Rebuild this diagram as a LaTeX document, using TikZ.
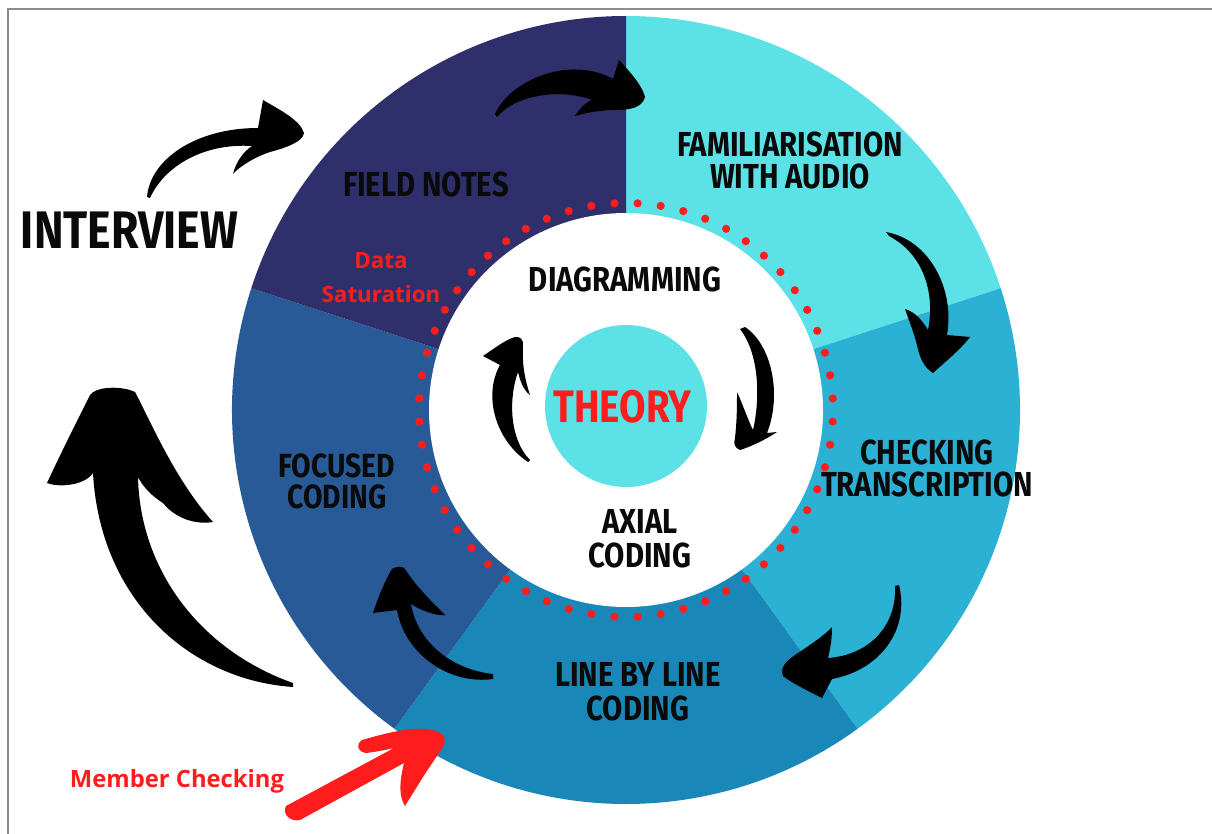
\documentclass[tikz,border=0pt]{standalone}
\usepackage{fontspec}
\setmainfont{Open Sans}
\newfontfamily\condfont{Fira Sans}[FakeStretch=0.845]
\newfontfamily\notefont{Open Sans}
\definecolor{navyseg}{HTML}{2F2F6B}
\definecolor{focusseg}{HTML}{285A97}
\definecolor{lineseg}{HTML}{1987B8}
\definecolor{checkseg}{HTML}{2BB1D3}
\definecolor{familseg}{HTML}{5CE1E6}
\definecolor{redtxt}{HTML}{FF1C1C}
\definecolor{ink}{HTML}{0A0A0A}
\begin{document}
\begin{tikzpicture}[x=1pt,y=-1pt,
  stagelabel/.style={font=\condfont\bfseries\fontsize{34.7}{32}\selectfont, text=ink, align=center, inner sep=0pt},
  notelabel/.style={font=\notefont\bfseries\fontsize{22.4}{34}\selectfont, text=redtxt, align=center, inner sep=0pt},
  brush/.style={fill=black},
  redbrush/.style={fill=redtxt},
]
\useasboundingbox (0,0) rectangle (1212,834);
\fill[white] (0,0) rectangle (1212,834);
\draw[black!45, line width=1.5pt] (8,834) -- (8,9) -- (1212,9);

\coordinate (C) at (626,410);
% ring sectors (angles measured clockwise, y downwards)
\fill[familseg] (C) -- ++(-90:394) arc[start angle=-90, end angle=-18, radius=394] -- cycle;
\fill[checkseg] (C) -- ++(-18:394) arc[start angle=-18, end angle=54, radius=394] -- cycle;
\fill[lineseg]  (C) -- ++(54:394) arc[start angle=54, end angle=126, radius=394] -- cycle;
\fill[focusseg] (C) -- ++(126:394) arc[start angle=126, end angle=198, radius=394] -- cycle;
\fill[navyseg]  (C) -- ++(198:394) arc[start angle=198, end angle=270, radius=394] -- cycle;
% inner white disc
\fill[white] (C) circle[radius=197];
% dotted red ring
\foreach \i in {0,...,55} {
  \pgfmathsetmacro{\ang}{-90+3.2143+6.4286*\i}
  \fill[redtxt] (C) ++(\ang:207) circle[radius=4.1];
}
% theory disc
\fill[familseg] (626,406) circle[radius=81];

% labels
\node[stagelabel, font=\condfont\bfseries\fontsize{52.8}{50}\selectfont] (interview) at (129.5,230.5) {INTERVIEW};
\node[stagelabel] (fieldnotes) at (426,184) {FIELD NOTES};
\node[stagelabel] (familiar) at (790,160) {FAMILIARISATION\\WITH AUDIO};
\node[stagelabel] (diagram) at (625,279) {DIAGRAMMING};
\node[stagelabel, font=\condfont\bfseries\fontsize{45.5}{43}\selectfont, text=redtxt] (theory) at (622.5,407) {THEORY};
\node[stagelabel] (checking) at (927,468) {CHECKING\\TRANSCRIPTION};
\node[stagelabel, font=\condfont\bfseries\fontsize{34.7}{34}\selectfont] (axial) at (640,539) {AXIAL\\CODING};
\node[stagelabel, font=\condfont\bfseries\fontsize{33.5}{31}\selectfont] (focused) at (337,481) {FOCUSED\\CODING};
\node[stagelabel, font=\condfont\bfseries\fontsize{34.7}{34}\selectfont] (linebyline) at (638,691.5) {LINE BY LINE\\CODING};
\node[notelabel] (datasat) at (381,278) {Data\\Saturation};
\node[notelabel, font=\notefont\bfseries\fontsize{23.8}{30}\selectfont, anchor=base] (member) at (177,787) {Member Checking};

% brush arrows
% interview -> field notes
\fill[brush] (147,197) .. controls (150,160) and (195,128) .. (258,128)
  -- (263,100) .. controls (280,110) and (300,120) .. (304,133)
  .. controls (303,142) and (285,148) .. (270,152)
  .. controls (255,157) and (240,166) .. (233,174)
  .. controls (236,162) and (243,152) .. (252,146)
  .. controls (205,143) and (165,165) .. (150,198) -- cycle;
% field notes -> familiarisation
\fill[brush] (495,114) .. controls (510,80) and (570,55) .. (613,79)
  -- (619,60) .. controls (630,72) and (642,85) .. (645,97)
  .. controls (642,108) and (630,110) .. (615,110)
  .. controls (600,110) and (585,113) .. (575,116)
  .. controls (580,108) and (585,103) .. (592,100)
  .. controls (560,88) and (515,95) .. (497,117) -- cycle;
% familiarisation -> checking
\fill[brush] (886,232) .. controls (930,240) and (955,290) .. (947,335)
  -- (970,337) .. controls (960,350) and (945,362) .. (933,373)
  .. controls (925,368) and (920,360) .. (917,345)
  .. controls (913,330) and (908,318) .. (905,309)
  .. controls (915,312) and (922,320) .. (928,330)
  .. controls (935,295) and (925,255) .. (889,236) -- cycle;
% checking -> line by line
\fill[brush] (899,585) .. controls (910,630) and (880,670) .. (832,679)
  -- (822,698) .. controls (810,692) and (790,682) .. (783,676)
  .. controls (780,668) and (785,662) .. (795,655)
  .. controls (810,645) and (825,635) .. (832,627)
  .. controls (832,640) and (830,650) .. (828,658)
  .. controls (870,655) and (897,625) .. (895,586) -- cycle;
% line by line -> focused
\fill[brush] (493,679) .. controls (450,685) and (405,655) .. (397,610)
  -- (373,613) .. controls (378,598) and (385,580) .. (392,569)
  .. controls (397,566) and (402,566) .. (405,569)
  .. controls (415,585) and (430,600) .. (445,615)
  .. controls (435,616) and (420,610) .. (411,604)
  .. controls (418,645) and (455,670) .. (493,674) -- cycle;
% big return arrow
\fill[brush] (293,687) .. controls (190,680) and (100,600) .. (93,473)
  .. controls (85,485) and (60,488) .. (47,483)
  .. controls (60,455) and (75,425) .. (90,395)
  .. controls (95,387) and (120,385) .. (135,392)
  .. controls (150,420) and (175,480) .. (213,522)
  .. controls (195,525) and (175,518) .. (163,503)
  .. controls (150,495) and (142,485) .. (138,477)
  .. controls (140,570) and (200,650) .. (293,683) -- cycle;
% inner left arrow
\fill[brush] (528,462) .. controls (495,440) and (483,395) .. (500,365)
  -- (483,356) .. controls (495,348) and (505,340) .. (515,337)
  .. controls (520,336) and (524,340) .. (523,346)
  .. controls (522,365) and (525,380) .. (530,395)
  .. controls (523,390) and (520,380) .. (518,372)
  .. controls (508,400) and (510,440) .. (530,460) -- cycle;
% inner right arrow
\fill[brush] (745,327) .. controls (772,345) and (782,395) .. (767,433)
  -- (777,432) .. controls (765,440) and (750,447) .. (740,450)
  .. controls (735,448) and (733,444) .. (735,438)
  .. controls (737,420) and (737,405) .. (737,392)
  .. controls (743,405) and (748,420) .. (753,430)
  .. controls (760,400) and (760,355) .. (740,329) -- cycle;
% member checking red arrow
\fill[redbrush] (286,806) .. controls (282,814) and (290,822) .. (300,820)
  -- (404,763)
  .. controls (400,780) and (398,795) .. (405,806)
  .. controls (415,790) and (430,765) .. (440,752)
  .. controls (445,745) and (446,738) .. (443,735)
  .. controls (430,726) and (410,726) .. (362,740)
  .. controls (355,745) and (358,752) .. (366,753)
  .. controls (375,752) and (385,750) .. (394,748) -- cycle;
\end{tikzpicture}
\end{document}
